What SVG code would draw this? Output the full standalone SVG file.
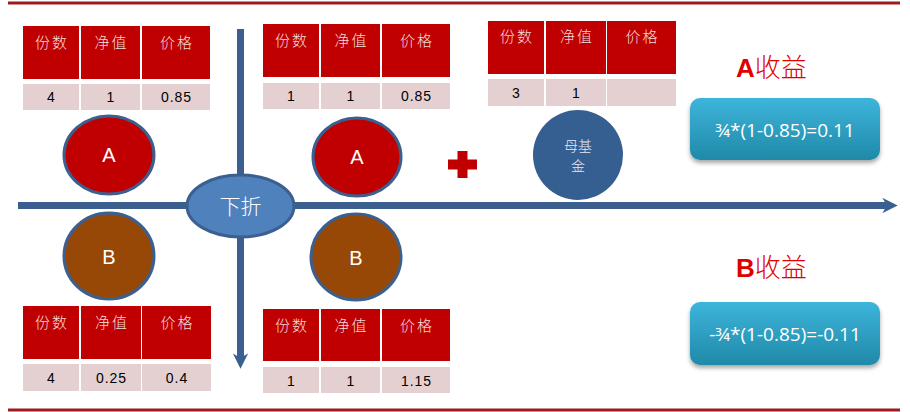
<svg xmlns="http://www.w3.org/2000/svg" width="910" height="412" viewBox="0 0 910 412">
<defs>
<linearGradient id="boxg" x1="0" y1="0" x2="0" y2="1">
<stop offset="0" stop-color="#3DB5DB"/>
<stop offset="1" stop-color="#2089A8"/>
</linearGradient>
<filter id="sh" x="-10%" y="-10%" width="120%" height="130%">
<feDropShadow dx="0" dy="3" stdDeviation="2" flood-color="#000" flood-opacity="0.35"/>
</filter>
<marker id="ah" viewBox="0 0 10 10" refX="5" refY="5" markerWidth="2.2" markerHeight="2.2" orient="auto" markerUnits="strokeWidth">
<path d="M0,0 L10,5 L0,10 L3,5 Z" fill="#3B6090"/>
</marker>
</defs>
<style>
.hd{fill:#C00000}
.dt{fill:#E5D0D1}
.ht{font-family:"Noto Sans CJK SC",sans-serif;font-size:15px;fill:#F2DCDB;text-anchor:middle;font-weight:300;letter-spacing:2px}
.tx{font-family:"Liberation Sans",Arial,sans-serif;font-size:14px;fill:#000;text-anchor:middle;letter-spacing:1px}
.ca{fill:#C00000;stroke:#3B6090;stroke-width:3}
.cb{fill:#974806;stroke:#3B6090;stroke-width:3}
.cl{font-family:"Liberation Sans",Arial,sans-serif;font-size:20px;fill:#fff;text-anchor:middle}
.ax{stroke:#3B6090;stroke-width:7;fill:none}
.rl{stroke:#9B1B1E;stroke-width:3}
.box{fill:url(#boxg);filter:url(#sh)}
.bt{font-family:"Open Sans","Liberation Sans",sans-serif;font-size:19px;fill:#fff;text-anchor:middle}
.ti{font-size:26px;fill:#E00000}
</style>
<rect width="910" height="412" fill="#fff"/>
<line class="rl" x1="8" y1="3" x2="900" y2="3" stroke-width="2"/>
<line class="rl" x1="8" y1="410" x2="900" y2="410"/>

<g id="connectors">
<line class="ax" x1="18" y1="205.5" x2="890" y2="205.5" marker-end="url(#ah)"/>
<line class="ax" x1="240.5" y1="29" x2="240.5" y2="361" marker-end="url(#ah)"/>
</g>

<g id="table-tl">
<rect class="hd" x="23" y="26" width="56" height="53"/>
<rect class="hd" x="81" y="26" width="59" height="53"/>
<rect class="hd" x="142" y="26" width="68" height="53"/>
<rect class="dt" x="23" y="84" width="56" height="26"/>
<rect class="dt" x="81" y="84" width="59" height="26"/>
<rect class="dt" x="142" y="84" width="68" height="26"/>
<text class="ht" x="52" y="48">份数</text>
<text class="ht" x="111.5" y="48">净值</text>
<text class="ht" x="177" y="48">价格</text>
<text class="tx" x="51.5" y="102">4</text>
<text class="tx" x="111" y="102">1</text>
<text class="tx" x="176.5" y="102">0.85</text>
</g>

<g id="table-tm">
<rect class="hd" x="263" y="24" width="56" height="53"/>
<rect class="hd" x="321" y="24" width="59" height="53"/>
<rect class="hd" x="382" y="24" width="68" height="53"/>
<rect class="dt" x="263" y="83" width="56" height="26"/>
<rect class="dt" x="321" y="83" width="59" height="26"/>
<rect class="dt" x="382" y="83" width="68" height="26"/>
<text class="ht" x="292" y="46">份数</text>
<text class="ht" x="351.5" y="46">净值</text>
<text class="ht" x="417" y="46">价格</text>
<text class="tx" x="291.5" y="101">1</text>
<text class="tx" x="351" y="101">1</text>
<text class="tx" x="416.5" y="101">0.85</text>
</g>

<g id="table-tr">
<rect class="hd" x="488" y="21" width="56" height="53"/>
<rect class="hd" x="546" y="21" width="60" height="53"/>
<rect class="hd" x="607" y="21" width="69" height="53"/>
<rect class="dt" x="488" y="79" width="56" height="27"/>
<rect class="dt" x="546" y="79" width="60" height="27"/>
<rect class="dt" x="607" y="79" width="69" height="27"/>
<text class="ht" x="517" y="42">份数</text>
<text class="ht" x="577" y="42">净值</text>
<text class="ht" x="642.5" y="42">价格</text>
<text class="tx" x="516.5" y="98">3</text>
<text class="tx" x="576.5" y="98">1</text>
</g>

<g id="table-bl">
<rect class="hd" x="23" y="306" width="56" height="53"/>
<rect class="hd" x="81" y="306" width="60" height="53"/>
<rect class="hd" x="142" y="306" width="69" height="53"/>
<rect class="dt" x="23" y="364" width="56" height="27"/>
<rect class="dt" x="81" y="364" width="60" height="27"/>
<rect class="dt" x="142" y="364" width="69" height="27"/>
<text class="ht" x="52" y="328">份数</text>
<text class="ht" x="112" y="328">净值</text>
<text class="ht" x="177.5" y="328">价格</text>
<text class="tx" x="51.5" y="383">4</text>
<text class="tx" x="111.5" y="383">0.25</text>
<text class="tx" x="177" y="383">0.4</text>
</g>

<g id="table-bm">
<rect class="hd" x="263" y="309" width="56" height="52"/>
<rect class="hd" x="321" y="309" width="59" height="52"/>
<rect class="hd" x="382" y="309" width="68" height="52"/>
<rect class="dt" x="263" y="367" width="56" height="26"/>
<rect class="dt" x="321" y="367" width="59" height="26"/>
<rect class="dt" x="382" y="367" width="68" height="26"/>
<text class="ht" x="292" y="331">份数</text>
<text class="ht" x="351.5" y="331">净值</text>
<text class="ht" x="417" y="331">价格</text>
<text class="tx" x="291.5" y="386">1</text>
<text class="tx" x="351" y="386">1</text>
<text class="tx" x="416.5" y="386">1.15</text>
</g>

<g id="node-a1">
<ellipse class="ca" cx="109" cy="155" rx="45" ry="39"/>
<text class="cl" x="109" y="162">A</text>
</g>
<g id="node-a2">
<ellipse class="ca" cx="357" cy="157" rx="44" ry="39"/>
<text class="cl" x="357" y="164">A</text>
</g>
<g id="node-b1">
<ellipse class="cb" cx="109" cy="256" rx="45" ry="43"/>
<text class="cl" x="109" y="264">B</text>
</g>
<g id="node-b2">
<ellipse class="cb" cx="356" cy="257" rx="45" ry="43"/>
<text class="cl" x="356" y="265">B</text>
</g>

<g id="node-xiazhe">
<ellipse cx="240.5" cy="206" rx="53.5" ry="31" fill="#4F81BD" stroke="#3B6090" stroke-width="3"/>
<text x="240.5" y="214" font-family="Noto Sans CJK SC,sans-serif" font-size="21" font-weight="300" fill="#fff" text-anchor="middle">下折</text>
</g>

<g id="plus">
<rect x="448" y="159.5" width="29" height="10" fill="#C00000"/>
<rect x="457.5" y="151" width="10" height="27" fill="#C00000"/>
</g>

<g id="node-mother">
<circle cx="578" cy="155" r="45" fill="#365F91"/>
<text x="578" y="151" font-family="Noto Sans CJK SC,sans-serif" font-size="14" font-weight="300" fill="#E8E8F0" text-anchor="middle">母基</text>
<text x="578" y="171" font-family="Noto Sans CJK SC,sans-serif" font-size="14" font-weight="300" fill="#E8E8F0" text-anchor="middle">金</text>
</g>

<g id="title-a">
<text x="736" y="77" class="ti"><tspan font-family="Liberation Sans,Arial,sans-serif" font-weight="bold">A</tspan><tspan font-family="Noto Sans CJK SC,sans-serif" font-weight="300">收益</tspan></text>
</g>
<g id="box-a">
<rect class="box" x="690" y="98" width="190" height="62" rx="10"/>
<text class="bt" x="785" y="137">¾*(1-0.85)=0.11</text>
</g>

<g id="title-b">
<text x="736" y="277" class="ti"><tspan font-family="Liberation Sans,Arial,sans-serif" font-weight="bold">B</tspan><tspan font-family="Noto Sans CJK SC,sans-serif" font-weight="300">收益</tspan></text>
</g>
<g id="box-b">
<rect class="box" x="690" y="302" width="190" height="63" rx="10"/>
<text class="bt" x="785" y="341">-¾*(1-0.85)=-0.11</text>
</g>
</svg>
